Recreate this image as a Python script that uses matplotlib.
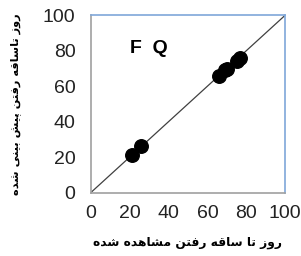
import matplotlib
matplotlib.use("Agg")
import matplotlib.pyplot as plt

# observed vs predicted days to stem elongation
observed = [21, 26, 66, 69, 70, 75, 77]
predicted = [21, 26, 66, 69, 70, 74, 76]
ticks = [0, 20, 40, 60, 80, 100]
one_to_one = [0, 100]

# Persian labels (logical order), shaped below for drawing
x_label = "روز تا ساقه رفتن مشاهده شده"
y_label = "روز تاساقه رفتن پیش بینی شده"


def shape(text):
    # simple Arabic/Persian contextual shaping, returned in visual order
    table = {
        # iso, fin, ini, med
        'ا': ('\uFE8D', '\uFE8E', None, None),
        'ب': ('\uFE8F', '\uFE90', '\uFE91', '\uFE92'),
        'پ': ('\uFB56', '\uFB57', '\uFB58', '\uFB59'),
        'ت': ('\uFE95', '\uFE96', '\uFE97', '\uFE98'),
        'د': ('\uFEA9', '\uFEAA', None, None),
        'ر': ('\uFEAD', '\uFEAE', None, None),
        'ز': ('\uFEAF', '\uFEB0', None, None),
        'س': ('\uFEB1', '\uFEB2', '\uFEB3', '\uFEB4'),
        'ش': ('\uFEB5', '\uFEB6', '\uFEB7', '\uFEB8'),
        'ف': ('\uFED1', '\uFED2', '\uFED3', '\uFED4'),
        'ق': ('\uFED5', '\uFED6', '\uFED7', '\uFED8'),
        'م': ('\uFEE1', '\uFEE2', '\uFEE3', '\uFEE4'),
        'ن': ('\uFEE5', '\uFEE6', '\uFEE7', '\uFEE8'),
        'ه': ('\uFEE9', '\uFEEA', '\uFEEB', '\uFEEC'),
        'و': ('\uFEED', '\uFEEE', None, None),
        'ی': ('\uFBFC', '\uFBFD', '\uFBFE', '\uFBFF'),
    }
    out = []
    for i, ch in enumerate(text):
        if ch not in table:
            out.append(ch)
            continue
        prev = text[i - 1] if i > 0 else ' '
        nxt = text[i + 1] if i + 1 < len(text) else ' '
        join_prev = prev in table and table[prev][2] is not None
        join_next = nxt in table and table[ch][2] is not None
        iso, fin, ini, med = table[ch]
        if join_prev and join_next:
            out.append(med)
        elif join_prev:
            out.append(fin)
        elif join_next:
            out.append(ini)
        else:
            out.append(iso)
    return ''.join(out)[::-1]


fig = plt.figure(figsize=(3.01, 2.56), dpi=100)
ax = fig.add_axes([0.302, 0.248, 0.645, 0.692])

ax.plot(one_to_one, one_to_one, color='#404040', lw=0.9, zorder=1)
ax.scatter(observed, predicted, s=95, color='black', zorder=3)

ax.set_xlim(0, 100)
ax.set_ylim(0, 100)
ax.set_xticks(ticks)
ax.set_yticks(ticks)
ax.tick_params(length=0, labelsize=14)
ax.tick_params(axis='x', pad=9)
ax.tick_params(axis='y', pad=11)
for lab in ax.get_xticklabels() + ax.get_yticklabels():
    lab.set_fontfamily('Liberation Sans')
    lab.set_color('#222222')

ax.spines['left'].set_color('#a0a0a0')
ax.spines['bottom'].set_color('#a0a0a0')
ax.spines['top'].set_color('#7fa7d9')
ax.spines['right'].set_color('#7fa7d9')
for s in ax.spines.values():
    s.set_linewidth(1.2)

ax.text(20, 79, 'F  Q', fontsize=14, fontweight='bold', family='Liberation Sans')

ax.set_xlabel(shape(x_label), fontsize=8.8, fontweight='bold', labelpad=10)
ax.set_ylabel(shape(y_label), fontsize=8.2, fontweight='bold', labelpad=16)

fig.savefig('out.png', dpi=100)
